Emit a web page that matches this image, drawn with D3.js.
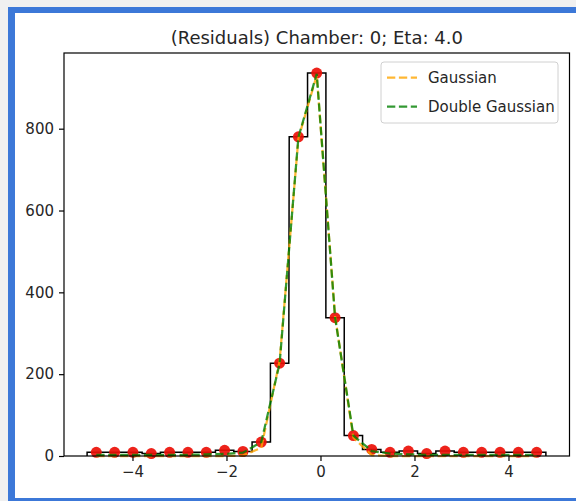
<!DOCTYPE html>
<html lang="en">
<head>
    <meta charset="utf-8">
    <title>Residuals</title>
    <script src="https://d3js.org/d3.v7.min.js"></script>
    <style>
        body { margin:0; background:#f0f0f0; }
        svg { display:block; }
        text { font-family:"DejaVu Sans", sans-serif; fill:#262626; }
    </style>
</head>
<body>
<svg width="576" height="501"></svg>
<script>
    // bin centres of the residual histogram and counts in each bin
    var binCenters = [-4.77,-4.38,-3.99,-3.60,-3.21,-2.82,-2.43,-2.04,-1.65,-1.26,-0.87,-0.47,-0.08,
                      0.31,0.70,1.09,1.48,1.87,2.26,2.65,3.04,3.43,3.82,4.21,4.60];
    var binWidth = 0.391;
    var counts = [9,9,9,6,9,9,9,14,11,34,227,780,936,338,50,16,9,12,6,12,9,9,9,9,9];
    // fitted curves evaluated at the bin centres
    var gaussFit = [0,0,0,0,0,0,0,0,1,20,232,776,930,342,45,2,0,0,0,0,0,0,0,0,0];
    var doubleFit = [3,3,3,3,3,3,4,5,8,34,226,779,934,339,50,12,6,4,3,3,3,3,3,3,3];
    var xTicks = [-4,-2,0,2,4];
    var yTicks = [0,200,400,600,800];
    var legendLabels = ["Gaussian","Double Gaussian"];

    var svg = d3.select("svg");
    var marge = {top:53,bottom:456,left:64,right:569.5};

    // window frame (blue border round the figure)
    svg.append("rect").attr("x",8).attr("y",7).attr("width",600).attr("height",600).attr("fill","#3c78d8");
    svg.append("rect").attr("x",15).attr("y",13).attr("width",600).attr("height",485).attr("fill","#ffffff");

    var xScale = d3.scaleLinear()
        .domain([-5.457,5.298])
        .range([marge.left,marge.right]);
    var yScale = d3.scaleLinear()
        .domain([0,985])
        .range([marge.bottom,marge.top]);

    var g = svg.append("g");

    // histogram as a step outline
    var stepPts = [[binCenters[0]-binWidth/2,0]];
    counts.forEach(function(c,i){
        stepPts.push([binCenters[i]-binWidth/2,c]);
        stepPts.push([binCenters[i]+binWidth/2,c]);
    });
    stepPts.push([binCenters[binCenters.length-1]+binWidth/2,0]);
    g.append("path")
        .attr("d",d3.line().x(function(d){return xScale(d[0]);}).y(function(d){return yScale(d[1]);})(stepPts))
        .attr("fill","none")
        .attr("stroke","#000")
        .attr("stroke-width",1.5);

    // data points
    g.selectAll(".pt")
        .data(counts)
        .enter()
        .append("circle")
        .attr("cx",function(d,i){return xScale(binCenters[i]);})
        .attr("cy",function(d){return yScale(d);})
        .attr("r",5.5)
        .attr("fill","#ec1008")
        .attr("opacity",0.92);

    var line = d3.line()
        .x(function(d,i){return xScale(binCenters[i]);})
        .y(function(d){return yScale(d);});
    var colors = ["#ffa500","#008000"];
    [gaussFit,doubleFit].forEach(function(s,k){
        g.append("path")
            .attr("d",line(s))
            .attr("fill","none")
            .attr("stroke",colors[k])
            .attr("stroke-opacity",0.8)
            .attr("stroke-width",2.25)
            .attr("stroke-dasharray","8.3,3.6");
    });

    // axes frame
    g.append("rect")
        .attr("x",marge.left).attr("y",marge.top)
        .attr("width",marge.right-marge.left).attr("height",marge.bottom-marge.top)
        .attr("fill","none").attr("stroke","#000").attr("stroke-width",1.2);

    var xAxis = d3.axisBottom(xScale).tickValues(xTicks).tickSize(5).tickPadding(5)
        .tickFormat(function(d){return d<0 ? "\u2212"+Math.abs(d) : d;});
    var yAxis = d3.axisLeft(yScale).tickValues(yTicks).tickSize(5).tickPadding(5);

    var gx = g.append("g").attr("transform","translate(0,"+marge.bottom+")").call(xAxis);
    var gy = g.append("g").attr("transform","translate("+marge.left+",0)").call(yAxis);
    [gx,gy].forEach(function(a){
        a.select(".domain").remove();
        a.selectAll("line").attr("stroke","#000").attr("stroke-width",1.2);
        a.selectAll("text").attr("font-size",15).attr("font-family","DejaVu Sans").attr("fill","#262626");
    });

    // title
    svg.append("text")
        .attr("x",(marge.left+marge.right)/2)
        .attr("y",44)
        .attr("text-anchor","middle")
        .attr("font-size",18)
        .text("(Residuals) Chamber: 0; Eta: 4.0");

    // legend
    var lg = svg.append("g").attr("transform","translate(381,62)");
    lg.append("rect")
        .attr("width",177).attr("height",61).attr("rx",3)
        .attr("fill","#fff").attr("fill-opacity",0.8)
        .attr("stroke","#d0d0d0").attr("stroke-width",1);
    legendLabels.forEach(function(t,k){
        var y = 15.5 + k*29;
        lg.append("line")
            .attr("x1",6).attr("x2",36).attr("y1",y).attr("y2",y)
            .attr("stroke",colors[k]).attr("stroke-opacity",0.8)
            .attr("stroke-width",2.25).attr("stroke-dasharray","8.3,3.6");
        lg.append("text")
            .attr("x",47).attr("y",y).attr("dy","0.35em")
            .attr("font-size",15)
            .text(t);
    });
</script>
</body>
</html>
